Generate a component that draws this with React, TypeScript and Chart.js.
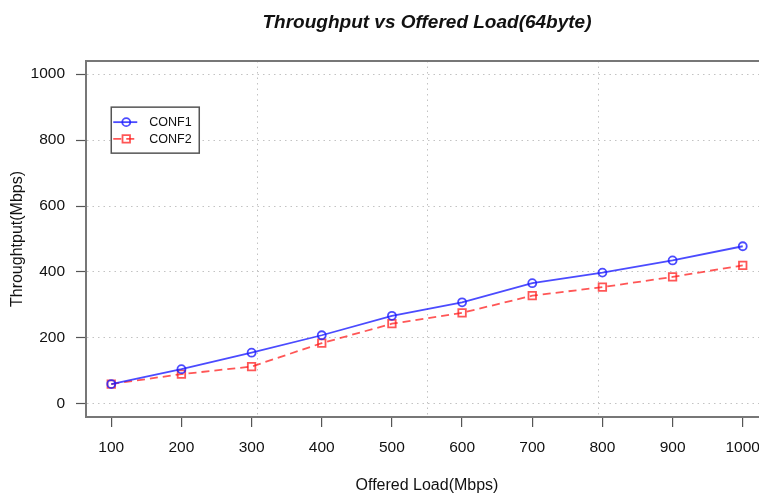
import React, { useEffect, useRef } from "react";
import { Chart, registerables } from "chart.js";

Chart.register(...registerables);

const offeredLoad = [100, 200, 300, 400, 500, 600, 700, 800, 900, 1000];
const conf1 = [60, 105, 155, 208, 267, 308, 366, 398, 435, 478];
const conf2 = [60, 90, 113, 184, 243, 276, 328, 354, 385, 420];
const xTicks = [100, 200, 300, 400, 500, 600, 700, 800, 900, 1000];
const yTicks = [0, 200, 400, 600, 800, 1000];
const seriesLabels = ["CONF1", "CONF2"];
const titleText = "Throughput vs Offered Load(64byte)";
const xTitle = "Offered Load(Mbps)";
const yTitle = "Throughtput(Mbps)";
const legendAnchor = [100, 900];

const FONT = '"Liberation Sans", Arial, Helvetica, sans-serif';
const BLUE = "rgba(30,30,255,0.8)";
const RED = "rgba(255,30,30,0.75)";
const GRID = "rgba(175,175,175,0.75)";
const AXIS = "#555";

const framePlugin = {
  id: "frameGrid",
  beforeDatasetsDraw(chart: any) {
    const { ctx, chartArea } = chart;
    const xs = chart.scales.x;
    ctx.save();
    ctx.strokeStyle = GRID;
    ctx.lineWidth = 1;
    ctx.setLineDash([1.5, 4]);
    for (let k = 1; k < 4; k++) {
      const v = xs.min + ((xs.max - xs.min) * k) / 4;
      const px = Math.round(xs.getPixelForValue(v)) + 0.5;
      ctx.beginPath();
      ctx.moveTo(px, chartArea.top);
      ctx.lineTo(px, chartArea.bottom);
      ctx.stroke();
    }
    ctx.setLineDash([]);
    ctx.strokeStyle = "#777";
    ctx.lineWidth = 2;
    ctx.strokeRect(chartArea.left, chartArea.top, chartArea.right - chartArea.left, chartArea.bottom - chartArea.top);
    ctx.restore();
  },
};

const legendPlugin = {
  id: "rLegend",
  afterDraw(chart: any) {
    const { ctx } = chart;
    const left = chart.scales.x.getPixelForValue(legendAnchor[0]);
    const top = chart.scales.y.getPixelForValue(legendAnchor[1]);
    const w = 88;
    const h = 46;
    ctx.save();
    ctx.fillStyle = "#fff";
    ctx.fillRect(left, top, w, h);
    ctx.strokeStyle = AXIS;
    ctx.lineWidth = 1.5;
    ctx.strokeRect(left, top, w, h);
    chart.data.datasets.forEach((ds: any, i: number) => {
      const y = top + 15 + i * 16.7;
      ctx.strokeStyle = ds.borderColor;
      ctx.lineWidth = ds.borderWidth;
      ctx.setLineDash(ds.borderDash || []);
      ctx.beginPath();
      ctx.moveTo(left + 2, y);
      ctx.lineTo(left + 26, y);
      ctx.stroke();
      ctx.setLineDash([]);
      const cx = left + 15;
      ctx.lineWidth = ds.pointBorderWidth;
      ctx.beginPath();
      if (ds.pointStyle === "rect") {
        const s = ds.pointRadius * Math.SQRT1_2;
        ctx.rect(cx - s, y - s, 2 * s, 2 * s);
      } else {
        ctx.arc(cx, y, ds.pointRadius, 0, Math.PI * 2);
      }
      ctx.stroke();
      ctx.fillStyle = "#111";
      ctx.font = `12.5px ${FONT}`;
      ctx.textAlign = "left";
      ctx.textBaseline = "middle";
      ctx.fillText(ds.label, left + 38, y + 0.5);
    });
    ctx.restore();
  },
};

export default function App() {
  const ref = useRef<HTMLCanvasElement>(null);

  useEffect(() => {
    if (!ref.current) return;
    const chart = new Chart(ref.current, {
      type: "line",
      data: {
        datasets: [
          {
            label: seriesLabels[0],
            data: offeredLoad.map((x, i) => ({ x, y: conf1[i] })),
            borderColor: BLUE,
            borderWidth: 1.8,
            pointStyle: "circle",
            pointRadius: 4,
            pointBorderWidth: 1.8,
            pointBorderColor: BLUE,
            pointBackgroundColor: "rgba(0,0,0,0)",
            tension: 0,
            fill: false,
          },
          {
            label: seriesLabels[1],
            data: offeredLoad.map((x, i) => ({ x, y: conf2[i] })),
            borderColor: RED,
            borderWidth: 1.8,
            borderDash: [8, 5],
            pointStyle: "rect",
            pointRadius: 5.3,
            pointBorderWidth: 1.8,
            pointBorderColor: RED,
            pointBackgroundColor: "rgba(0,0,0,0)",
            tension: 0,
            fill: false,
          },
        ],
      },
      options: {
        animation: false,
        responsive: false,
        devicePixelRatio: 1,
        layout: { padding: { left: 0, right: 86, top: 0, bottom: 0 } },
        plugins: {
          legend: { display: false },
          tooltip: { enabled: false },
          title: {
            display: true,
            text: titleText,
            fullSize: false,
            color: "#111",
            font: { family: FONT, size: 19, weight: "bold", style: "italic", lineHeight: 1.2 },
            padding: { top: 11.6, bottom: 26.6 },
          },
        },
        scales: {
          x: {
            type: "linear",
            min: 64,
            max: 1036,
            afterBuildTicks: (s: any) => {
              s.ticks = xTicks.map((v) => ({ value: v }));
            },
            afterFit: (s: any) => {
              s.height = 77;
            },
            grid: {
              drawOnChartArea: false,
              drawTicks: true,
              tickLength: 10,
              color: AXIS,
              lineWidth: 1.2,
            },
            border: { display: true, color: AXIS, width: 2 },
            ticks: {
              padding: 11,
              color: "#111",
              autoSkip: false,
              maxRotation: 0,
              font: { family: FONT, size: 15.5 },
              callback: (v: any) => String(v),
            },
            title: {
              display: true,
              text: xTitle,
              color: "#111",
              font: { family: FONT, size: 16, lineHeight: 1 },
              padding: { top: 0, bottom: 0 },
            },
          },
          y: {
            type: "linear",
            min: -40,
            max: 1040,
            afterBuildTicks: (s: any) => {
              s.ticks = yTicks.map((v) => ({ value: v }));
            },
            afterFit: (s: any) => {
              s.width = 86;
            },
            grid: {
              color: GRID,
              lineWidth: 1,
              drawTicks: true,
              tickLength: 10,
              tickColor: AXIS,
              tickWidth: 1.2,
              tickBorderDash: [],
            },
            border: { display: true, color: AXIS, width: 2, dash: [1.5, 4] },
            ticks: {
              padding: 11,
              color: "#111",
              font: { family: FONT, size: 15.5 },
              callback: (v: any) => String(v),
            },
            title: {
              display: true,
              text: yTitle,
              color: "#111",
              font: { family: FONT, size: 16, lineHeight: 1 },
              padding: { top: 10, bottom: 0 },
            },
          },
        },
      },
      plugins: [framePlugin, legendPlugin],
    } as any);
    return () => chart.destroy();
  }, []);

  return (
    <div
      style={{
        position: "absolute",
        left: 0,
        top: 0,
        width: 759,
        height: 494,
        overflow: "hidden",
        background: "#fff",
      }}
    >
      <canvas ref={ref} width={854} height={494} style={{ display: "block", width: 854, height: 494 }} />
    </div>
  );
}
